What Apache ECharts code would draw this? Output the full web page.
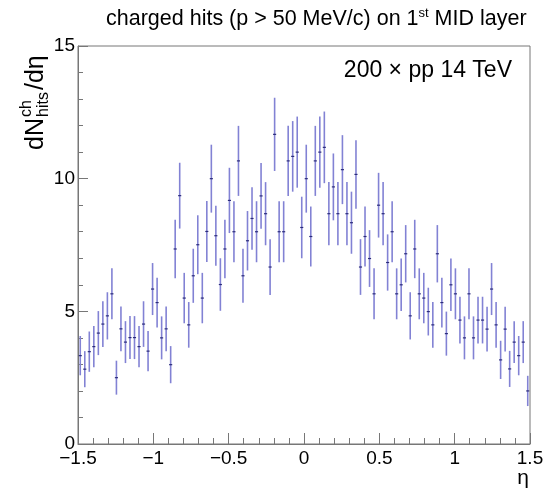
<!DOCTYPE html>
<html>
<head>
<meta charset="utf-8">
<script src="https://cdn.jsdelivr.net/npm/echarts@6/dist/echarts.min.js"></script>
<style>
  html, body { margin: 0; padding: 0; background: #fff; }
  #chart { width: 554px; height: 489px; }
</style>
</head>
<body>
<div id="chart"></div>
<script>
// histogram binning: 100 bins over eta in [-1.5, 1.5]
var etaMin = -1.5;
var binWidth = 0.03;

// bin contents
var counts = [
  3.33, 2.82, 3.48, 3.67, 4.18, 4.52, 4.83, 5.66, 2.50, 4.34,
  3.84, 4.01, 4.01, 3.67, 4.52, 3.50, 5.84, 5.33, 4.00, 4.34,
  2.99, 7.35, 9.36, 5.50, 4.49, 6.34, 7.51, 5.50, 8.01, 10.00,
  7.85, 6.01, 7.35, 9.18, 8.00, 10.67, 6.34, 7.66, 8.50, 8.00,
  9.35, 8.68, 6.67, 11.67, 8.00, 8.00, 10.67, 10.84, 11.00, 8.16,
  10.00, 7.82, 10.67, 11.00, 11.18, 8.68, 9.69, 8.68, 10.34, 8.68,
  8.34, 10.16, 6.67, 7.82, 6.99, 5.66, 9.00, 8.68, 6.84, 8.00,
  5.66, 6.00, 7.17, 4.83, 7.35, 5.66, 5.50, 4.99, 4.49, 7.17,
  5.33, 4.16, 6.00, 5.66, 4.67, 4.00, 5.66, 4.00, 4.67, 4.67,
  4.33, 5.84, 4.49, 3.17, 4.33, 2.83, 3.84, 3.33, 3.84, 2.00
];

// error bar half-lengths
var errors = [
  0.74, 0.68, 0.76, 0.78, 0.83, 0.86, 0.89, 0.96, 0.64, 0.84,
  0.79, 0.81, 0.81, 0.78, 0.86, 0.76, 0.98, 0.94, 0.81, 0.84,
  0.70, 1.10, 1.24, 0.95, 0.86, 1.02, 1.11, 0.95, 1.15, 1.28,
  1.13, 0.99, 1.10, 1.23, 1.15, 1.32, 1.02, 1.12, 1.18, 1.15,
  1.24, 1.19, 1.05, 1.38, 1.15, 1.15, 1.32, 1.33, 1.34, 1.16,
  1.28, 1.13, 1.32, 1.34, 1.35, 1.19, 1.26, 1.19, 1.30, 1.19,
  1.17, 1.29, 1.05, 1.13, 1.07, 0.96, 1.22, 1.19, 1.06, 1.15,
  0.96, 0.99, 1.08, 0.89, 1.10, 0.96, 0.95, 0.90, 0.86, 1.08,
  0.94, 0.83, 0.99, 0.96, 0.88, 0.81, 0.96, 0.81, 0.88, 0.88,
  0.84, 0.98, 0.86, 0.72, 0.84, 0.68, 0.79, 0.74, 0.79, 0.57
];

var xTicks = [-1.5, -1, -0.5, 0, 0.5, 1, 1.5];
var yTicks = [0, 5, 10, 15];

var FONT = 'Liberation Sans';

var data = counts.map(function (v, i) {
  return [etaMin + binWidth * (i + 0.5), v, errors[i]];
});

var chart = echarts.init(document.getElementById('chart'), null, { renderer: 'canvas' });

function minus(v) {
  return String(v).replace('-', '\u2212');
}

var option = {
  animation: false,
  backgroundColor: '#fff',
  grid: {
    left: 78, right: 24, top: 46, bottom: 45,
    show: true, borderColor: '#777', borderWidth: 1
  },
  xAxis: {
    type: 'value',
    min: xTicks[0], max: xTicks[xTicks.length - 1], interval: 0.5,
    axisLine: { onZero: false, lineStyle: { color: '#777', width: 1 } },
    axisTick: { inside: true, length: 11, lineStyle: { color: '#777' } },
    minorTick: { show: true, splitNumber: 5, length: 6, lineStyle: { color: '#777' } },
    splitLine: { show: false },
    axisLabel: {
      margin: 5, fontSize: 19, color: '#000', fontFamily: FONT,
      showMinLabel: true, showMaxLabel: true,
      formatter: function (v) { return minus(v); }
    }
  },
  yAxis: {
    type: 'value',
    min: yTicks[0], max: yTicks[yTicks.length - 1], interval: 5,
    axisLine: { show: true, onZero: false, lineStyle: { color: '#777', width: 1 } },
    axisTick: { show: true, inside: true, length: 10, lineStyle: { color: '#777' } },
    minorTick: { show: true, splitNumber: 5, length: 5, lineStyle: { color: '#777' } },
    splitLine: { show: false },
    axisLabel: { margin: 3, fontSize: 19, color: '#000', fontFamily: FONT }
  },
  series: [{
    type: 'custom',
    data: data,
    encode: { x: 0, y: 1 },
    renderItem: function (params, api) {
      var x = api.value(0), v = api.value(1), e = api.value(2);
      var c = api.coord([x, v]);
      var lo = api.coord([x, v - e]);
      var hi = api.coord([x, v + e]);
      var w = api.size([binWidth, 0])[0];
      return {
        type: 'group',
        children: [
          { type: 'line', shape: { x1: c[0], y1: hi[1], x2: c[0], y2: lo[1] },
            style: { stroke: '#8282d4', lineWidth: 1.6 } },
          { type: 'line', shape: { x1: c[0] - w / 2 + 0.7, y1: c[1], x2: c[0] + w / 2 - 0.7, y2: c[1] },
            style: { stroke: '#2c2c7c', lineWidth: 1.2 } }
        ]
      };
    }
  }],
  graphic: [
    { // title
      type: 'text', left: 106, top: 7,
      style: {
        text: '{a|charged hits (p > 50 MeV/c) on 1}{s|st}{a| MID layer}',
        rich: {
          a: { fontSize: 21.5, fontFamily: FONT, fill: '#000', lineHeight: 25 },
          s: { fontSize: 13, fontFamily: FONT, fill: '#000', lineHeight: 13, verticalAlign: 'top' }
        }
      }
    },
    {
      type: 'text', right: 42, top: 59,
      style: { text: '200 \u00d7 pp 14 TeV', font: '23px "Liberation Sans"', fill: '#000' }
    },
    {
      type: 'text', x: 523, y: 478,
      style: { text: '\u03b7', font: '21px "Liberation Sans"', fill: '#000', textAlign: 'center', textVerticalAlign: 'middle' }
    },
    { // y axis title, rotated
      type: 'group', x: 49, y: 150, rotation: Math.PI / 2,
      children: [
        { type: 'text', x: 0, y: 0,
          style: { text: 'dN', font: '25px "Liberation Sans"', fill: '#000', textVerticalAlign: 'bottom' } },
        { type: 'text', x: 33, y: -14,
          style: { text: 'ch', font: '16px "Liberation Sans"', fill: '#000', textVerticalAlign: 'bottom' } },
        { type: 'text', x: 33, y: 3,
          style: { text: 'hits', font: '16px "Liberation Sans"', fill: '#000', textVerticalAlign: 'bottom' } },
        { type: 'text', x: 60, y: 0,
          style: { text: '/d\u03b7', font: '25px "Liberation Sans"', fill: '#000', textVerticalAlign: 'bottom' } }
      ]
    }
  ]
};

chart.setOption(option);
</script>
</body>
</html>
